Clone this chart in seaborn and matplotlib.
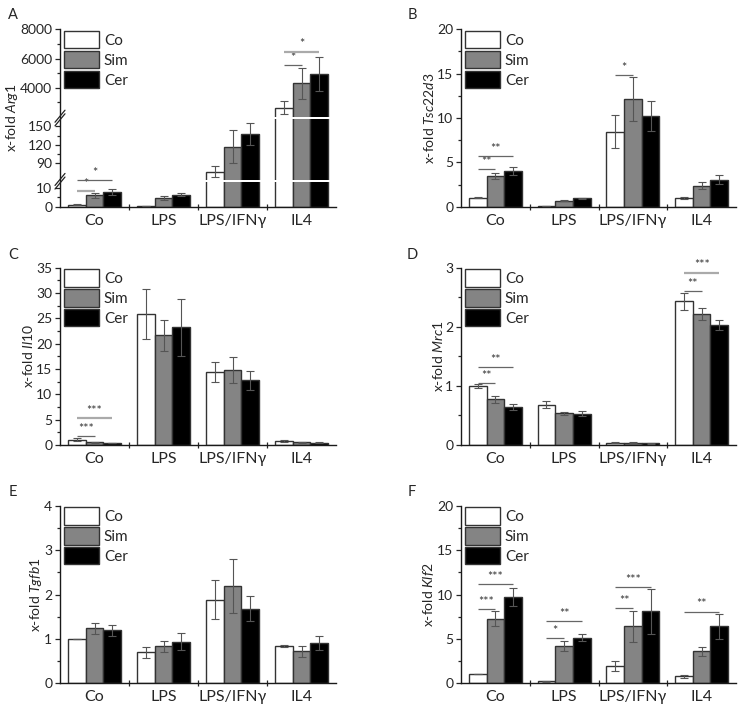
import numpy as np
import pandas as pd
import matplotlib
matplotlib.use("Agg")
import matplotlib.pyplot as plt
from matplotlib.container import BarContainer
import seaborn as sns

# ---------------- data ----------------
conditions = ["Co", "LPS", "LPS/IFNγ", "IL4"]
treatments = ["Co", "Sim", "Cer"]

arg1_mean = [[1.0, 6.0, 7.8], [0.3, 4.6, 6.4], [76, 117, 138], [2630, 4300, 4940]]
arg1_err = [[0.2, 1.3, 1.7], [0.1, 0.9, 0.9], [9, 27, 18], [450, 1050, 1140]]

tsc_mean = [[1.0, 3.5, 4.0], [0.1, 0.65, 0.95], [8.45, 12.15, 10.2], [1.0, 2.35, 3.05]]
tsc_err = [[0.05, 0.35, 0.45], [0.02, 0.05, 0.08], [1.85, 2.45, 1.7], [0.1, 0.4, 0.5]]

il10_mean = [[1.0, 0.55, 0.4], [25.9, 21.7, 23.2], [14.4, 14.8, 12.8], [0.8, 0.55, 0.45]]
il10_err = [[0.3, 0.1, 0.05], [4.95, 3.05, 5.7], [1.9, 2.5, 1.9], [0.15, 0.1, 0.1]]

mrc1_mean = [[1.0, 0.77, 0.65], [0.68, 0.54, 0.53], [0.04, 0.04, 0.03], [2.43, 2.22, 2.03]]
mrc1_err = [[0.03, 0.065, 0.05], [0.06, 0.025, 0.04], [0.005, 0.01, 0.005], [0.14, 0.1, 0.08]]

tgfb1_mean = [[1.0, 1.24, 1.19], [0.7, 0.83, 0.94], [1.88, 2.19, 1.68], [0.84, 0.72, 0.9]]
tgfb1_err = [[0.0, 0.12, 0.13], [0.12, 0.13, 0.2], [0.44, 0.6, 0.28], [0.02, 0.13, 0.16]]

klf2_mean = [[1.0, 7.25, 9.7], [0.25, 4.2, 5.15], [1.9, 6.4, 8.1], [0.8, 3.6, 6.4]]
klf2_err = [[0.0, 0.85, 1.0], [0.05, 0.6, 0.36], [0.56, 1.7, 2.5], [0.15, 0.5, 1.45]]

# significance: (condition index, compared treatment index, y, label, light line)
arg1_sig = [(0, 1, 8.2, "*", True), (0, 2, 60, "*", False), (3, 1, 5550, "*", False), (3, 2, 6470, "*", True)]
tsc_sig = [(0, 1, 4.2, "**", False), (0, 2, 5.7, "**", False), (2, 1, 14.8, "*", False)]
il10_sig = [(0, 1, 1.7, "***", False), (0, 2, 5.3, "***", True)]
mrc1_sig = [(0, 1, 1.047, "**", False), (0, 2, 1.32, "**", False), (3, 1, 2.605, "**", False), (3, 2, 2.915, "***", True)]
tgfb1_sig = []
klf2_sig = [(0, 1, 8.33, "***", False), (0, 2, 11.14, "***", False), (1, 1, 5.07, "*", False),
            (1, 2, 6.98, "**", False), (2, 1, 8.44, "**", False), (2, 2, 10.8, "***", False),
            (3, 2, 8.07, "**", False)]

# ---------------- style ----------------
sns.set_style("ticks")
plt.rcParams["font.family"] = ["Lato", "DejaVu Sans"]
plt.rcParams["mathtext.fontset"] = "custom"
plt.rcParams["mathtext.rm"] = "Lato"
plt.rcParams["mathtext.it"] = "Lato:italic"
plt.rcParams["axes.edgecolor"] = "#1a1a1a"

palette = ["#ffffff", "#848484", "#000000"]
W, H = 745, 711
fig = plt.figure(figsize=(W / 100, H / 100), dpi=100)


def ax_at(left, top, right, bottom):
    return fig.add_axes([left / W, 1 - bottom / H, (right - left) / W, (bottom - top) / H])


# broken axis scale for panel A
seg_data = np.array([0, 13, 62, 162, 2000, 8000], float)
seg_frac = np.array([0, 0.137, 0.150, 0.494, 0.506, 1.0])


def fwd(v):
    v = np.asarray(v, float)
    out = np.interp(v, seg_data, seg_frac)
    s0 = (seg_frac[1] - seg_frac[0]) / (seg_data[1] - seg_data[0])
    s1 = (seg_frac[-1] - seg_frac[-2]) / (seg_data[-1] - seg_data[-2])
    out = np.where(v < 0, v * s0, out)
    out = np.where(v > seg_data[-1], 1 + (v - seg_data[-1]) * s1, out)
    return out


def inv(f):
    f = np.asarray(f, float)
    out = np.interp(f, seg_frac, seg_data)
    s0 = (seg_data[1] - seg_data[0]) / (seg_frac[1] - seg_frac[0])
    s1 = (seg_data[-1] - seg_data[-2]) / (seg_frac[-1] - seg_frac[-2])
    out = np.where(f < 0, f * s0, out)
    out = np.where(f > 1, seg_data[-1] + (f - 1) * s1, out)
    return out


def draw_panel(ax, means, errs, gene, sig, ylim, yticks, yminor, ticklabels=None, broken=False):
    df = pd.DataFrame({
        "cond": np.repeat(conditions, len(treatments)),
        "treat": treatments * len(conditions),
        "val": np.ravel(means),
    })
    sns.barplot(data=df, x="cond", y="val", hue="treat", order=conditions, hue_order=treatments,
                palette=palette, saturation=1, width=0.77, errorbar=None,
                edgecolor="#333333", linewidth=1.0, ax=ax)
    bar_conts = [c for c in ax.containers if isinstance(c, BarContainer)]
    centers = {}
    for hi, cont in enumerate(bar_conts):
        for bar in cont:
            xc = bar.get_x() + bar.get_width() / 2
            ci = int(round(xc))
            centers[(ci, hi)] = xc
            ax.errorbar(xc, bar.get_height(), yerr=errs[ci][hi], fmt="none",
                        ecolor="#555555", elinewidth=0.8, capsize=2.6, capthick=0.8, zorder=3)
    if broken:
        ax.set_yscale("function", functions=(fwd, inv))
    ax.set_ylim(*ylim)
    ax.set_xlim(-0.5, 3.5)
    ax.set_yticks(yticks, labels=ticklabels if ticklabels else [f"{t:g}" for t in yticks])
    ax.set_yticks(yminor, minor=True)
    ax.set_xticks(range(len(conditions)), labels=conditions)
    ax.set_xticks([0.5, 1.5, 2.5], minor=True)
    ax.tick_params(axis="y", which="major", length=3.5, width=0.9, labelsize=10, pad=2)
    ax.tick_params(axis="y", which="minor", length=2, width=0.9)
    ax.tick_params(axis="x", which="major", length=0, labelsize=11.5, pad=5)
    ax.tick_params(axis="x", which="minor", length=4, width=0.9, direction="inout")
    ax.set_xlabel("")
    ax.set_ylabel(r"x-fold $\mathit{" + gene + "}$", fontsize=10, labelpad=0.5)
    sns.despine(ax=ax)
    for sp in ax.spines.values():
        sp.set_linewidth(1.0)
    # significance annotations
    for ci, hi, y, lab, light in sig:
        x0, x1 = centers[(ci, 0)], centers[(ci, hi)]
        ax.plot([x0, x1], [y, y], color="#aaaaaa" if light else "#666666",
                lw=1.6 if light else 0.9, zorder=5, solid_capstyle="butt")
        ax.annotate(lab, xy=((x0 + x1) / 2, y), xytext=(0, 1.0), textcoords="offset points",
                    ha="center", va="bottom", fontsize=9, color="#333333", zorder=5)
    h, l = ax.get_legend_handles_labels()
    ax.legend(h, l, loc="upper left", bbox_to_anchor=(0.015, 0.99), frameon=False,
              borderpad=0, borderaxespad=0, handlelength=2.3, handleheight=1.35,
              labelspacing=0.18, handletextpad=0.3, fontsize=11)


rows = [(29.3, 206.7), (267.7, 445.0), (505.7, 683.3)]
cols = [(60, 336), (461, 736)]

axA = ax_at(cols[0][0], rows[0][0], cols[0][1], rows[0][1])
draw_panel(axA, arg1_mean, arg1_err, "Arg1", arg1_sig, (0, 8000),
           [0, 10, 90, 120, 150, 4000, 6000, 8000], [5, 105, 135, 3000, 5000, 7000],
           ticklabels=["0", "10", "90", "120", "150", "4000", "6000", "8000"], broken=True)
# white gaps of the broken axis
axA.axhspan(seg_data[1], seg_data[2], color="white", zorder=2.4, lw=0)
axA.axhspan(seg_data[3], seg_data[4], color="white", zorder=2.4, lw=0)
axh = rows[0][1] - rows[0][0]
axw = cols[0][1] - cols[0][0]
for fb in [(seg_frac[1] + seg_frac[2]) / 2, (seg_frac[3] + seg_frac[4]) / 2]:
    for s in (-1.8, 1.8):
        axA.plot([-5 / axw, 5 / axw], [fb + (s - 6) / axh, fb + (s + 6) / axh],
                 transform=axA.transAxes, clip_on=False, color="#222222", lw=0.9, zorder=6)

axB = ax_at(cols[1][0], rows[0][0], cols[1][1], rows[0][1])
draw_panel(axB, tsc_mean, tsc_err, "Tsc22d3", tsc_sig, (0, 20), [0, 5, 10, 15, 20],
           [2.5, 7.5, 12.5, 17.5])

axC = ax_at(cols[0][0], rows[1][0], cols[0][1], rows[1][1])
draw_panel(axC, il10_mean, il10_err, "Il10", il10_sig, (0, 35), list(range(0, 36, 5)),
           [2.5 + 5 * i for i in range(7)])

axD = ax_at(cols[1][0], rows[1][0], cols[1][1], rows[1][1])
draw_panel(axD, mrc1_mean, mrc1_err, "Mrc1", mrc1_sig, (0, 3), [0, 1, 2, 3], [0.5, 1.5, 2.5])

axE = ax_at(cols[0][0], rows[2][0], cols[0][1], rows[2][1])
draw_panel(axE, tgfb1_mean, tgfb1_err, "Tgfb1", tgfb1_sig, (0, 4), [0, 1, 2, 3, 4],
           [0.5, 1.5, 2.5, 3.5])

axF = ax_at(cols[1][0], rows[2][0], cols[1][1], rows[2][1])
draw_panel(axF, klf2_mean, klf2_err, "Klf2", klf2_sig, (0, 20), [0, 5, 10, 15, 20],
           [2.5, 7.5, 12.5, 17.5])

for lab, (px, py) in zip("ABCDEF", [(13, 15), (412, 15), (13, 255), (412, 255), (13, 492), (412, 492)]):
    fig.text(px / W, 1 - py / H, lab, ha="center", va="center", fontsize=10.5)

fig.savefig("out.png", dpi=100)
